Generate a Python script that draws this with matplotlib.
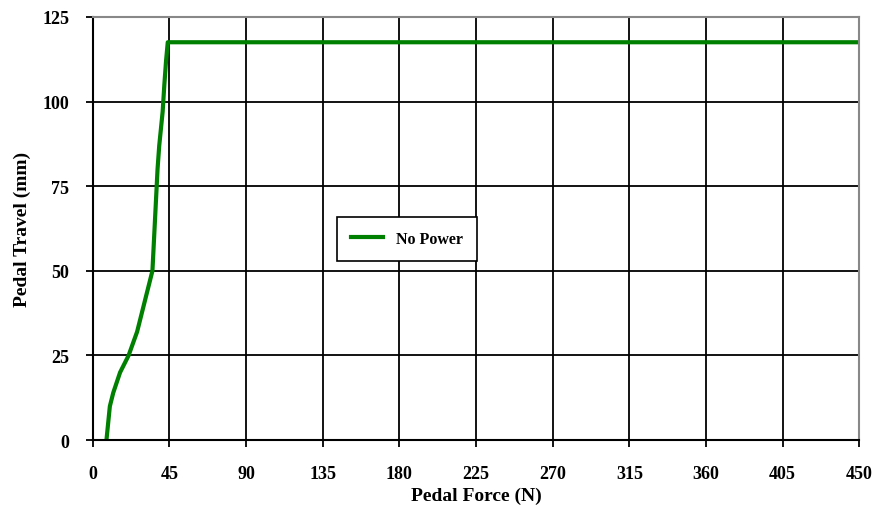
import matplotlib.pyplot as plt

# pedal force (N) vs pedal travel (mm), unassisted brake
pedal_force = [8, 9, 10, 12, 16, 21, 26, 30, 33, 35, 36, 37, 38, 39, 41, 42, 43, 44, 450]
pedal_travel = [0, 5, 10, 14, 20, 25, 32, 40, 46, 50, 60, 70, 80, 87, 97, 105, 112, 117.5, 117.5]

x_ticks = list(range(0, 451, 45))
y_ticks = [0, 25, 50, 75, 100, 125]

plt.rcParams['font.family'] = ['Liberation Serif', 'DejaVu Serif']
plt.rcParams['font.weight'] = 'bold'

fig = plt.figure(figsize=(8.84, 5.1), dpi=100)
ax = fig.add_axes([0.105, 0.135, 0.867, 0.83])

ax.plot(pedal_force, pedal_travel, color='#008000', lw=3, label='No Power')

ax.set_xlim(0, 450)
ax.set_ylim(0, 125)
ax.set_xticks(x_ticks)
ax.set_yticks(y_ticks)
ax.grid(True, color='black', lw=1.3)
ax.set_axisbelow(True)

ax.tick_params(axis='x', direction='out', length=5, width=1.3, pad=13, labelsize=13)
ax.tick_params(axis='y', direction='out', length=5, width=1.3, pad=12, labelsize=13)

for side in ['top', 'right']:
    ax.spines[side].set_color('#888888')
    ax.spines[side].set_linewidth(1.5)
for side in ['left', 'bottom']:
    ax.spines[side].set_color('black')
    ax.spines[side].set_linewidth(1.5)

ax.set_xlabel('Pedal Force (N)', fontsize=14, fontweight='bold', labelpad=3)
ax.set_ylabel('Pedal Travel (mm)', fontsize=14, fontweight='bold', labelpad=8)

leg = ax.legend(loc='center', bbox_to_anchor=(0.41, 0.475), fancybox=False,
                framealpha=1, edgecolor='black', fontsize=11.5, handlelength=2,
                borderpad=0.9, handletextpad=0.8, borderaxespad=0)
leg.get_frame().set_linewidth(1.2)

fig.savefig('out.png', dpi=100)
